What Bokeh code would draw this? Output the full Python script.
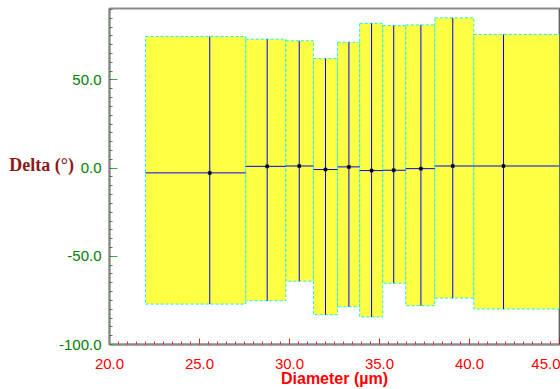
from bokeh.plotting import figure
from bokeh.models import (ColumnDataSource, Range1d, PrintfTickFormatter, FixedTicker, Span)
from bokeh.embed import file_html
from bokeh.resources import INLINE

# ---- data ----
x_lo = [22.0, 27.57, 29.8, 31.33, 32.67, 33.9, 35.18, 36.46, 38.07, 40.24]
x_hi = [27.57, 29.8, 31.33, 32.67, 33.9, 35.18, 36.46, 38.07, 40.24, 45.0]
x_center = [25.57, 28.76, 30.54, 32.0, 33.3, 34.56, 35.79, 37.3, 39.07, 41.89]
y_center = [-2.7, 1.0, 1.2, -0.8, 0.7, -1.4, -1.2, -0.3, 1.2, 1.2]
y_hi = [74.6, 73.1, 72.2, 62.1, 71.4, 82.1, 80.8, 81.2, 85.2, 75.8]
y_lo = [-77.1, -75.2, -64.1, -83.1, -78.6, -84.4, -65.3, -78.0, -73.7, -79.9]

x_ticks = [20, 25, 30, 35, 40, 45]
y_ticks = [-100, -50, 0, 50]
x_title = "Diameter (µm)"
y_title = "Delta (°)"

src = ColumnDataSource(dict(x_lo=x_lo, x_hi=x_hi, xc=x_center, yc=y_center,
                            y_lo=y_lo, y_hi=y_hi))

p = figure(width=560, height=389, output_backend="svg", toolbar_location=None,
           x_range=Range1d(20, 45), y_range=Range1d(-100, 90.5),
           min_border_left=109, min_border_right=1, min_border_top=8,
           min_border_bottom=44)
p.background_fill_color = "white"
p.border_fill_color = "white"
p.grid.visible = False
p.outline_line_color = "#8c8c8c"
p.outline_line_width = 2

p.quad(left="x_lo", right="x_hi", bottom="y_lo", top="y_hi", source=src,
       fill_color="#ffff44", line_color="#22eeee", line_dash="3 2", line_width=1)
p.segment(x0="xc", x1="xc", y0="y_lo", y1="y_hi", source=src,
          line_color="#0000ff", line_width=1)
p.segment(x0="x_lo", x1="x_hi", y0="yc", y1="yc", source=src,
          line_color="#0000ff", line_width=1)
p.scatter(x="xc", y="yc", source=src, marker="square", size=3,
          fill_color="black", line_color="black", line_width=0.5)

p.add_layout(Span(location=45, dimension="height", line_color="#333333", line_width=1))

# x axis
xa = p.xaxis[0]
xa.ticker = FixedTicker(ticks=x_ticks, minor_ticks=[20 + 0.5 * i for i in range(51)])
xa.formatter = PrintfTickFormatter(format="%.1f")
xa.axis_line_color = "#8c8c8c"
xa.axis_line_width = 2
xa.major_tick_line_color = "#ff2020"
xa.minor_tick_line_color = "#ff2020"
xa.major_tick_in = 6
xa.major_tick_out = 0
xa.minor_tick_in = 3
xa.minor_tick_out = 0
xa.major_label_text_color = "#ff0000"
xa.major_label_text_font = "Liberation Sans"
xa.major_label_text_font_size = "15px"
xa.major_label_standoff = 14
xa.axis_label = x_title
xa.axis_label_text_color = "#ff0000"
xa.axis_label_text_font = "Liberation Sans"
xa.axis_label_text_font_style = "bold"
xa.axis_label_text_font_size = "16px"
xa.axis_label_standoff = -2

# y axis
ya = p.yaxis[0]
ya.ticker = FixedTicker(ticks=y_ticks, minor_ticks=[-100 + 5 * i for i in range(39)])
ya.formatter = PrintfTickFormatter(format="%.1f")
ya.axis_line_color = "#8c8c8c"
ya.axis_line_width = 2
ya.major_tick_line_color = "#55aa55"
ya.minor_tick_line_color = "#4a804a"
ya.major_tick_in = 8
ya.major_tick_out = 0
ya.minor_tick_in = 3
ya.minor_tick_out = 0
ya.major_label_text_color = "#008000"
ya.major_label_text_font = "Liberation Sans"
ya.major_label_text_font_size = "15px"
ya.major_label_standoff = 8
ya.axis_label = y_title + "\n "
ya.axis_label_orientation = "horizontal"
ya.axis_label_standoff = -18
ya.axis_label_text_color = "#8b1a1a"
ya.axis_label_text_font = "Liberation Serif"
ya.axis_label_text_font_style = "bold"
ya.axis_label_text_font_size = "18px"

open("out.html", "w").write(file_html(p, INLINE))
